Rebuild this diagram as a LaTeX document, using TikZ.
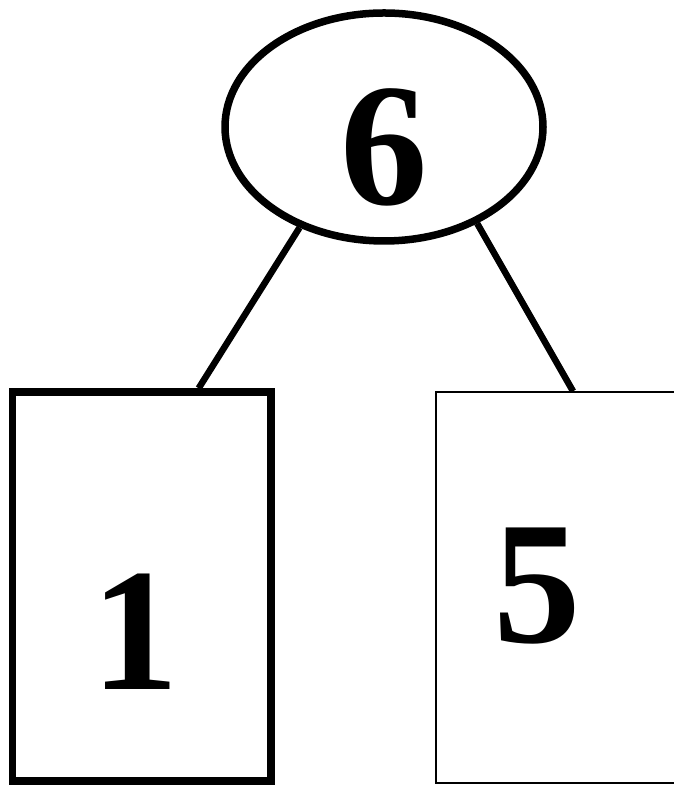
\documentclass[tikz,border=0pt]{standalone}
\usepackage{fontspec}
\setmainfont{Liberation Serif}
\usetikzlibrary{shapes.geometric,calc,positioning}

\begin{document}
\begin{tikzpicture}[x=1pt, y=1pt,
  root/.style={ellipse, draw, line width=7.5pt, minimum width=318pt, minimum height=228pt},
  leaf/.style={rectangle, draw, minimum height=#1},
  num/.style={inner sep=0pt, anchor=base, font=\fontsize{175}{175}\selectfont\bfseries},
  edge/.style={line width=6.5pt}
]
  \useasboundingbox (0,0) rectangle (673,786);

  \node[root] (six) at (384,659) {};
  \node[leaf=389pt, line width=7.5pt, minimum width=258.5pt] (one) at (141.75,199.5) {};
  \node[leaf=391pt, line width=1.5pt, minimum width=258pt] (five) at (565,198.5) {};

  \node[num] (t6) at (384,581) {6};
  \node[num] (t1) at (135,96) {1};
  \node[num] (t5) at (537,143) {5};

  \draw[edge] (six.230) -- ($(one.north west)!0.714!(one.north east)$);
  \draw[edge] (six.314) -- ($(five.north west)!0.531!(five.north east)$);
\end{tikzpicture}
\end{document}
